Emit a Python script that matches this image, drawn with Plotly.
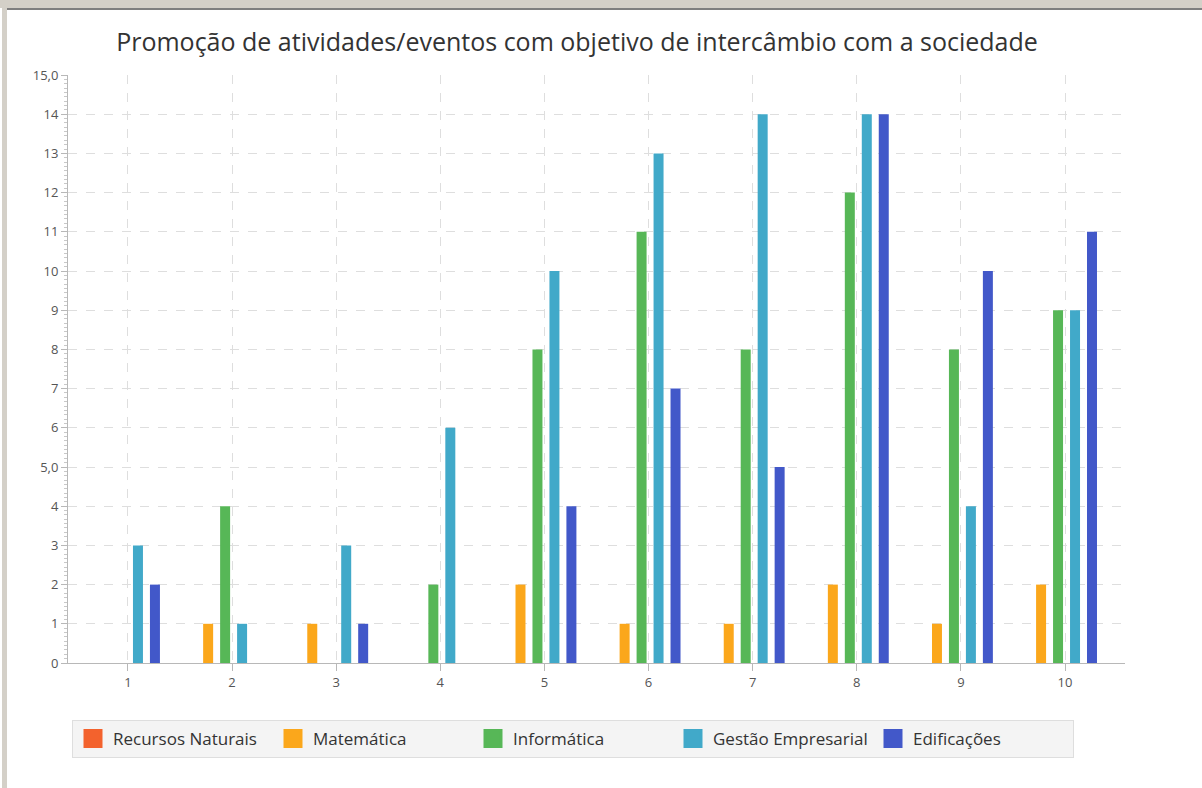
import plotly.graph_objects as go

# data
categorias = [1, 2, 3, 4, 5, 6, 7, 8, 9, 10]
recursos_naturais = [0, 0, 0, 0, 0, 0, 0, 0, 0, 0]
matematica = [0, 1, 1, 0, 2, 1, 1, 2, 1, 2]
informatica = [0, 4, 0, 2, 8, 11, 8, 12, 8, 9]
gestao_empresarial = [3, 1, 3, 6, 10, 13, 14, 14, 4, 9]
edificacoes = [2, 0, 1, 0, 4, 7, 5, 14, 10, 11]

y_ticks = list(range(0, 16))
y_ticktext = ["5,0" if v == 5 else "15,0" if v == 15 else str(v) for v in y_ticks]

series = [
    ("Recursos Naturais", recursos_naturais, "#f3622d"),
    ("Matemática", matematica, "#fba71b"),
    ("Informática", informatica, "#57b757"),
    ("Gestão Empresarial", gestao_empresarial, "#41a9c9"),
    ("Edificações", edificacoes, "#4258c9"),
]

W, H = 1202, 788
L, R, T, B = 68, 77, 75, 125
pw, ph = W - L - R, H - T - B


def px_x(x):
    return (x - L) / pw


def px_y(y):
    return (H - B - y) / ph


FONT = "Open Sans"
bar_w = 0.096
step = 0.163
shift = -0.067

fig = go.Figure()
for i, (name, vals, color) in enumerate(series):
    fig.add_trace(go.Bar(
        x=categorias, y=vals, name=name,
        marker=dict(color=color, line=dict(width=0)),
        width=bar_w,
        offset=(i - 2) * step + shift - bar_w / 2,
        showlegend=False,
    ))
    # legend swatch
    fig.add_trace(go.Scatter(
        x=[None], y=[None], name=name, mode="markers",
        marker=dict(symbol="square", size=16, color=color,
                    line=dict(color=color, width=3)),
    ))

fig.update_layout(
    width=W, height=H,
    margin=dict(l=L, r=R, t=T, b=B),
    paper_bgcolor="white", plot_bgcolor="white",
    barmode="overlay",
    font=dict(family=FONT, color="#555555", size=13),
    title=dict(
        text="Promoção de atividades/eventos com objetivo de intercâmbio com a sociedade",
        font=dict(family=FONT, size=25, color="#333333"),
        x=577 / W, xref="container", xanchor="center",
        y=1 - 42 / H, yref="container", yanchor="middle",
    ),
    legend=dict(
        orientation="h",
        x=px_x(72), xanchor="left",
        y=px_y(720), yanchor="top",
        bgcolor="#f4f4f4", bordercolor="#dedede", borderwidth=1,
        font=dict(family=FONT, size=17, color="#333333"),
        entrywidth=155, entrywidthmode="pixels",
        itemsizing="trace",
        traceorder="normal",
    ),
    xaxis=dict(
        range=[0.424, 10.576],
        tickvals=categorias,
        ticktext=[str(c) for c in categorias],
        showgrid=True, gridcolor="#dedede", griddash="dash", gridwidth=1,
        zeroline=False,
        showline=True, linecolor="#b8b8b8", linewidth=1,
        ticks="outside", ticklen=7, tickcolor="#b8b8b8",
        tickfont=dict(size=13, color="#555555"),
        fixedrange=True,
    ),
    yaxis=dict(
        range=[0, 15],
        tickvals=y_ticks,
        ticktext=y_ticktext,
        showgrid=True, gridcolor="#dedede", griddash="dash", gridwidth=1,
        zeroline=False,
        showline=True, linecolor="#b8b8b8", linewidth=1,
        ticks="outside", ticklen=6, tickcolor="#b8b8b8",
        tickfont=dict(size=13, color="#555555"),
        minor=dict(dtick=1 / 9, ticks="outside", ticklen=3,
                   tickcolor="#c8c8c8", showgrid=False),
        fixedrange=True,
    ),
    shapes=[
        # window frame bits seen in the screenshot
        dict(type="rect", xref="paper", yref="paper",
             x0=px_x(0), x1=px_x(W), y0=px_y(0), y1=px_y(8),
             fillcolor="#d4d0c8", line=dict(width=0), layer="above"),
        dict(type="rect", xref="paper", yref="paper",
             x0=px_x(4), x1=px_x(W), y0=px_y(8), y1=px_y(10),
             fillcolor="#7f7f7f", line=dict(width=0), layer="above"),
        dict(type="rect", xref="paper", yref="paper",
             x0=px_x(2), x1=px_x(7), y0=px_y(0), y1=px_y(H),
             fillcolor="#d4d0c8", line=dict(width=0), layer="above"),
    ],
)

# page body has an 8px default margin; drop it so the figure sits at 0,0
fig.write_html("out.html", config={"displayModeBar": False},
               post_script="document.body.style.margin='0px';")
